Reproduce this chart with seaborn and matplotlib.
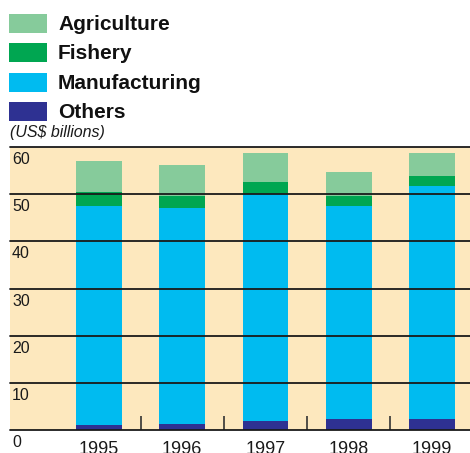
import pandas as pd
import seaborn as sns
import matplotlib.pyplot as plt
from matplotlib.patches import Rectangle

years = ["1995", "1996", "1997", "1998", "1999"]
others = [1.1, 1.3, 1.9, 2.3, 2.3]
manufacturing = [46.3, 45.7, 48.2, 45.1, 49.4]
fishery = [3.0, 2.6, 2.4, 2.2, 2.1]
agriculture = [6.6, 6.6, 6.2, 5.1, 4.9]

sectors = ["Agriculture", "Fishery", "Manufacturing", "Others"]
colors = ["#86CB9B", "#00A651", "#00BBF0", "#2E3192"]
y_ticks = [0, 10, 20, 30, 40, 50, 60]

sns.set_theme(style="white")
plt.rcParams["font.family"] = ["Liberation Sans", "DejaVu Sans"]

df = pd.DataFrame({
    "year": years,
    "Others": others,
    "Manufacturing": manufacturing,
    "Fishery": fishery,
    "Agriculture": agriculture,
})
# cumulative tops, bottom-up; tallest drawn first so later layers cover it
tops = df[["Others", "Manufacturing", "Fishery", "Agriculture"]].cumsum(axis=1)

W, H = 470, 453
fig = plt.figure(figsize=(W / 100, H / 100), dpi=100)
ax = fig.add_axes([10 / W, (H - 430) / H, 460 / W, 283 / H])
ax.set_facecolor("#FDE8BE")

for name, color in zip(sectors, colors):
    sns.barplot(x=df["year"], y=tops[name], color=color, width=0.55,
                saturation=1, errorbar=None, ax=ax, zorder=2,
                linewidth=0, edgecolor="none")

for v in y_ticks:
    ax.axhline(v, color="#1a1a1a", lw=1.3, zorder=3, clip_on=False)
    ax.annotate(str(v), xy=(0, v), xycoords=("axes fraction", "data"),
                xytext=(2, -5), textcoords="offset pixels", va="top",
                ha="left", fontsize=11.5, color="#1a1a1a",
                annotation_clip=False)

ax.set_xlim(-1.068, 4.456)
ax.set_ylim(0, 60)
ax.set_yticks([])
ax.set_xlabel("")
ax.set_ylabel("")
for s in ax.spines.values():
    s.set_visible(False)

ax.set_xticks([0.5, 1.5, 2.5, 3.5], minor=True)
ax.tick_params(axis="x", which="minor", direction="in", length=10,
               width=1.2, color="#333333", bottom=True)
ax.tick_params(axis="x", which="major", length=0, pad=8, labelsize=13,
               labelcolor="#1a1a1a")

# legend, drawn by hand at the top left
for i, (name, color) in enumerate(zip(sectors, colors)):
    top = 14 + i * 29.3
    fig.patches.append(Rectangle((9 / W, 1 - (top + 19) / H), 38 / W, 19 / H,
                                 transform=fig.transFigure, color=color,
                                 linewidth=0))
    fig.text(58 / W, 1 - (top + 16) / H, name, fontsize=15,
             fontweight="bold", va="baseline", color="#111111")

fig.text(10 / W, 1 - 137 / H, "(US$ billions)", style="italic",
         fontsize=11.5, va="baseline", color="#1a1a1a")

fig.savefig("out.png", dpi=100)
